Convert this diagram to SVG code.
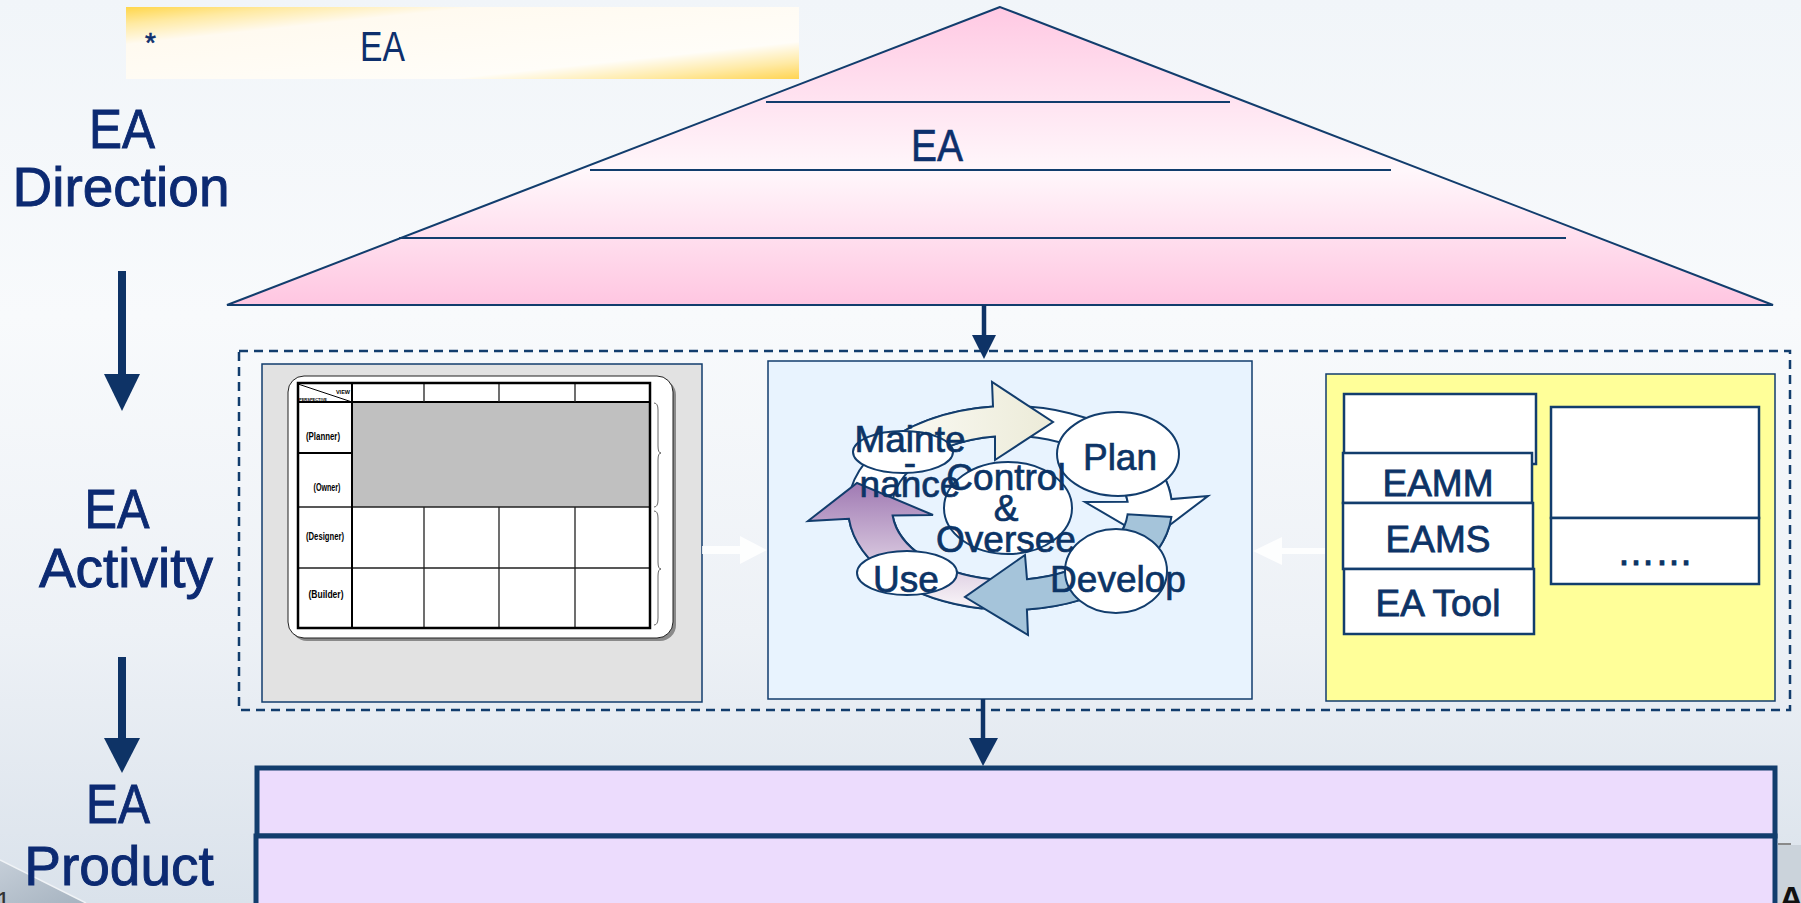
<svg xmlns="http://www.w3.org/2000/svg" width="1801" height="903" viewBox="0 0 1801 903">
<defs>
<linearGradient id="bg" x1="0" y1="0" x2="0" y2="1">
<stop offset="0" stop-color="#f1f5f9"/><stop offset="0.35" stop-color="#f8fafc"/><stop offset="0.7" stop-color="#edf1f6"/><stop offset="1" stop-color="#dae2eb"/>
</linearGradient>
<linearGradient id="banner" x1="0" y1="0" x2="1" y2="1">
<stop offset="0" stop-color="#ffd64a"/><stop offset="0.12" stop-color="#ffeaa2"/><stop offset="0.26" stop-color="#fffaf0"/><stop offset="0.74" stop-color="#fffdf8"/><stop offset="0.88" stop-color="#ffeaa5"/><stop offset="1" stop-color="#ffd452"/>
</linearGradient>
<linearGradient id="roof" x1="0" y1="0" x2="0" y2="1">
<stop offset="0" stop-color="#ffc9e3"/><stop offset="0.55" stop-color="#fff7fb"/><stop offset="1" stop-color="#ffc6e1"/>
</linearGradient>
<linearGradient id="cream" gradientUnits="userSpaceOnUse" x1="880" y1="0" x2="1053" y2="0">
<stop offset="0" stop-color="#fbfbf6"/><stop offset="1" stop-color="#ecebd8"/>
</linearGradient>
<linearGradient id="purple" gradientUnits="userSpaceOnUse" x1="0" y1="483" x2="0" y2="600">
<stop offset="0" stop-color="#a07ab3"/><stop offset="1" stop-color="#f4eef4"/>
</linearGradient>
<linearGradient id="swoosh" x1="0" y1="0" x2="1" y2="1">
<stop offset="0" stop-color="#c5ced8"/><stop offset="1" stop-color="#a6b3c0"/>
</linearGradient>
</defs>
<style>
.t{font-family:"Liberation Sans",Arial,sans-serif;}
.lbl{font-size:55px;fill:#0c2a72;stroke:#0c2a72;stroke-width:0.9px;text-anchor:middle;}
.nv{stroke:#123d6d;}
.cy{font-size:37px;fill:#0c3466;stroke:#0c3466;stroke-width:0.7px;text-anchor:middle;}
.box{font-size:37px;fill:#0d3366;stroke:#0d3366;stroke-width:0.8px;text-anchor:middle;}
.row{font-size:10px;font-weight:bold;fill:#000;text-anchor:middle;}
.ell{fill:#fff;stroke:#123d6d;stroke-width:2;}
.arr{fill:#0e3366;}
</style>

<rect width="1801" height="903" fill="url(#bg)"/>

<g id="footer-decor">
<path d="M0,860 L86,903 L0,903 Z" fill="url(#swoosh)"/>
<path d="M0,860 L86,903" stroke="#f0f3f6" stroke-width="1.5" fill="none"/>
<text class="t" x="-4" y="910" font-size="26" fill="#333">1</text>
<rect x="1778" y="845" width="23" height="58" fill="#cbd3db"/>
<path d="M1778,844 H1791" stroke="#8a8a8a" stroke-width="2"/>
<text class="t" x="1779" y="910" font-size="34" font-weight="bold" fill="#111">A</text>
</g>

<g id="banner">
<rect x="126" y="7" width="673" height="72" fill="url(#banner)"/>
<text class="t" x="145" y="52" font-size="28" fill="#0d2f6c" stroke="#0d2f6c" stroke-width="0.6">*</text>
<text class="t" x="360" y="61" font-size="43" fill="#0d2f6c" textLength="45" lengthAdjust="spacingAndGlyphs">EA</text>
</g>

<g id="label-direction">
<text class="t lbl" x="122" y="148" textLength="66" lengthAdjust="spacingAndGlyphs">EA</text>
<text class="t lbl" x="121" y="206">Direction</text>
</g>
<g id="label-activity">
<text class="t lbl" x="117" y="528" textLength="65" lengthAdjust="spacingAndGlyphs">EA</text>
<text class="t lbl" x="126" y="587">Activity</text>
</g>
<g id="label-product">
<text class="t lbl" x="118" y="823" textLength="64" lengthAdjust="spacingAndGlyphs">EA</text>
<text class="t lbl" x="119" y="885">Product</text>
</g>

<g id="roof">
<polygon points="1000,7 227,305 1773,305" fill="url(#roof)" class="nv" stroke-width="2"/>
<path d="M766,102 H1230 M590,170 H1391 M399,238 H1566" class="nv" stroke-width="2.2" fill="none"/>
<text class="t" x="911" y="161" font-size="44" fill="#0d2f6c" stroke="#0d2f6c" stroke-width="0.6" textLength="52" lengthAdjust="spacingAndGlyphs">EA</text>
</g>

<g id="activity-frame">
<rect x="239" y="351" width="1551" height="359" fill="none" class="nv" stroke-width="2.5" stroke-dasharray="9 6"/>
</g>

<g id="zachman-box">
<rect x="262" y="364" width="440" height="338" fill="#e2e2e2" class="nv" stroke-width="1.5"/>
<rect x="291" y="379" width="385" height="262" rx="16" fill="#8a8a8a"/>
<rect x="288" y="376" width="385" height="262" rx="16" fill="#fff" stroke="#222" stroke-width="1"/>
<rect x="298" y="383" width="352" height="245" fill="#fff"/>
<rect x="352" y="402" width="298" height="105" fill="#c0c0c0"/>
<path d="M298,402 H650 M298,453 H352" stroke="#000" stroke-width="2" fill="none"/>
<path d="M298,507 H650 M298,568 H650" stroke="#222" stroke-width="1.3" fill="none"/>
<path d="M352,383 V628" stroke="#000" stroke-width="2" fill="none"/>
<path d="M424,383 V402 M424,507 V628 M499,383 V402 M499,507 V628 M575,383 V402 M575,507 V628" stroke="#222" stroke-width="1.3" fill="none"/>
<path d="M298,384 L352,402" stroke="#000" stroke-width="1" fill="none"/>
<rect x="298" y="383" width="352" height="245" fill="none" stroke="#000" stroke-width="2.5"/>
<text class="t" x="350" y="394" font-size="5.5" font-weight="bold" text-anchor="end">VIEW</text>
<text class="t" x="299" y="401" font-size="4" font-weight="bold">PERSPECTIVE</text>
<text class="t row" x="323" y="440" textLength="34" lengthAdjust="spacingAndGlyphs">(Planner)</text>
<text class="t row" x="327" y="491" textLength="27" lengthAdjust="spacingAndGlyphs">(Owner)</text>
<text class="t row" x="325" y="540" textLength="38" lengthAdjust="spacingAndGlyphs">(Designer)</text>
<text class="t row" x="326" y="598" textLength="35" lengthAdjust="spacingAndGlyphs">(Builder)</text>
<path d="M654,403 Q658,403 658,410 V446 Q658,453 661,453 Q658,453 658,460 V500 Q658,507 654,507 M654,511 Q658,511 658,518 V562 Q658,569 661,569 Q658,569 658,576 V618 Q658,625 654,625" stroke="#555" stroke-width="0.9" fill="none"/>
</g>

<g id="cycle-box">
<rect x="768" y="361" width="484" height="338" fill="#e8f3fe" class="nv" stroke-width="1.5"/>
<ellipse cx="1010" cy="508" rx="162" ry="102" fill="#fff" class="nv" stroke-width="2"/>
<ellipse cx="1010" cy="508" rx="118" ry="72" fill="#e8f3fe" class="nv" stroke-width="2"/>
<path d="M981.9,608.5 A162,102 0 0 1 848.9,518.7 L808,521 L857,483 L933,515 L892.6,515.5 A118,72 0 0 0 989.5,578.9 Z" fill="url(#purple)" class="nv" stroke-width="2"/>
<path d="M877.3,449.5 A162,102 0 0 1 993,406.6 L992,382 L1053,422 L995,460 L995,436.5 A118,72 0 0 0 913.4,466.7 Z" fill="url(#cream)" class="nv" stroke-width="2"/>
<path d="M1091,419.7 A162,102 0 0 1 1171.4,499.1 L1208,496 L1150,540 L1085,502 L1127.6,501.7 A118,72 0 0 0 1069,445.6 Z" fill="#fff" class="nv" stroke-width="2"/>
<path d="M1171.4,516.9 A162,102 0 0 1 1026.9,609.4 L1028,635 L965,597 L1025,555 L1027,579.2 A118,72 0 0 0 1127.6,514.3 Z" fill="#a5c4da" class="nv" stroke-width="2"/>
<ellipse cx="903" cy="452" rx="50" ry="21" class="ell"/>
<ellipse cx="907" cy="573" rx="50" ry="22" class="ell"/>
<ellipse cx="1008" cy="508" rx="64" ry="46" class="ell"/>
<ellipse cx="1118" cy="454" rx="61" ry="42" class="ell"/>
<ellipse cx="1116" cy="571" rx="51" ry="42" class="ell"/>
<text class="t cy" x="910" y="452">Mainte</text>
<text class="t cy" x="910" y="475">-</text>
<text class="t cy" x="910" y="497">nance</text>
<text class="t cy" x="1006" y="490">Control</text>
<text class="t cy" x="1006" y="521">&amp;</text>
<text class="t cy" x="1006" y="552">Oversee</text>
<text class="t cy" x="1120" y="470">Plan</text>
<text class="t cy" x="1118" y="592">Develop</text>
<text class="t cy" x="906" y="592">Use</text>
</g>

<g id="tools-box">
<rect x="1326" y="374" width="449" height="327" fill="#ffff99" class="nv" stroke-width="1.5"/>
<rect x="1344" y="394" width="192" height="70" fill="#fff" class="nv" stroke-width="2.5"/>
<rect x="1343" y="453" width="189" height="50" fill="#fff" class="nv" stroke-width="2.5"/>
<rect x="1343" y="503" width="190" height="66" fill="#fff" class="nv" stroke-width="2.5"/>
<rect x="1344" y="569" width="190" height="65" fill="#fff" class="nv" stroke-width="2.5"/>
<text class="t box" x="1438" y="496">EAMM</text>
<text class="t box" x="1438" y="552">EAMS</text>
<text class="t box" x="1438" y="616">EA Tool</text>
<rect x="1551" y="407" width="208" height="111" fill="#fff" class="nv" stroke-width="2.5"/>
<rect x="1551" y="518" width="208" height="66" fill="#fff" class="nv" stroke-width="2.5"/>
<text class="t" x="1655" y="565" font-size="38" fill="#0d3366" stroke="#0d3366" stroke-width="1" text-anchor="middle">……</text>
</g>

<g id="product-layers">
<rect x="257" y="768" width="1518" height="68" fill="#ecdcfd" class="nv" stroke-width="5"/>
<rect x="256" y="836" width="1519" height="75" fill="#ecdcfd" class="nv" stroke-width="5"/>
</g>

<g id="connectors">
<path d="M122,271 V376 M122,657 V740" stroke="#0e3366" stroke-width="8" fill="none"/>
<polygon class="arr" points="104,374 140,374 122,411"/>
<polygon class="arr" points="104,738 140,738 122,773"/>
<path d="M984,305 V340" stroke="#0e3366" stroke-width="4.5" fill="none"/>
<polygon class="arr" points="972,335 996,335 984,359"/>
<path d="M983,699 V742" stroke="#0e3366" stroke-width="4.5" fill="none"/>
<polygon class="arr" points="969,738 998,738 983,766"/>
<polygon points="702,546 740,546 740,536 767,550 740,564 740,554 702,554" fill="#fff" fill-opacity="0.85"/>
<polygon points="1325,548 1282,548 1282,537 1253,551 1282,565 1282,554 1325,554" fill="#fff" fill-opacity="0.85"/>
</g>
</svg>
